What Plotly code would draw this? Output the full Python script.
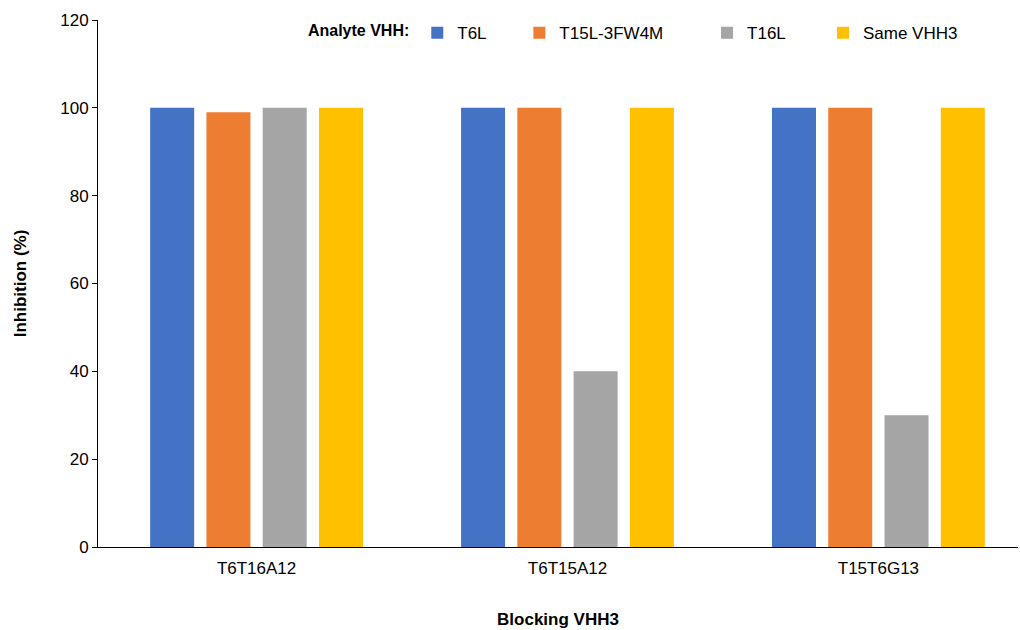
import plotly.graph_objects as go

categories = ["T6T16A12", "T6T15A12", "T15T6G13"]
t6l = [100, 100, 100]
t15l = [99, 100, 100]
t16l = [100, 40, 30]
same = [100, 100, 100]

series_names = ["T6L", "T15L-3FW4M", "T16L", "Same VHH3"]
series_vals = [t6l, t15l, t16l, same]
colors = ["#4472C4", "#ED7D31", "#A5A5A5", "#FFC000"]
legend_ids = ["legend", "legend2", "legend3", "legend4"]

fig = go.Figure()
for name, vals, c, lg in zip(series_names, series_vals, colors, legend_ids):
    fig.add_trace(go.Bar(x=categories, y=vals, name=name, marker=dict(color=c, line=dict(width=0)),
                         legend=lg, showlegend=True))

FONT = "Liberation Sans, Arial, sans-serif"
leg_common = dict(orientation="h", yanchor="middle", y=0.975, bgcolor="rgba(0,0,0,0)",
                  font=dict(family=FONT, size=17, color="black"), itemwidth=30)

fig.update_layout(
    width=1020, height=630,
    showlegend=True,
    margin=dict(l=98, r=2, t=20, b=83),
    paper_bgcolor="white", plot_bgcolor="white",
    bargap=0.276, bargroupgap=0.218,
    font=dict(family=FONT, size=17, color="black"),
    legend=dict(**leg_common, x=0.226, xanchor="left",
                title=dict(text="<b>Analyte VHH:</b>", side="left",
                           font=dict(family=FONT, size=16, color="black"))),
    legend2=dict(**leg_common, x=0.458, xanchor="left"),
    legend3=dict(**leg_common, x=0.662, xanchor="left"),
    legend4=dict(**leg_common, x=0.788, xanchor="left"),
    xaxis=dict(range=[-0.51, 2.449], showline=True, linecolor="black", linewidth=1,
               ticks="", ticklabelstandoff=6, tickfont=dict(family=FONT, size=17, color="black"),
               title=dict(text="<b>Blocking VHH3</b>", font=dict(family=FONT, size=17, color="black"),
                          standoff=35)),
    yaxis=dict(range=[0, 120], dtick=20, showgrid=False, zeroline=False, showline=True,
               linecolor="black", linewidth=1, ticks="outside", ticklen=5, tickcolor="black",
               tickfont=dict(family=FONT, size=17, color="black"),
               title=dict(text="<b>Inhibition (%)</b>", font=dict(family=FONT, size=17, color="black"),
                          standoff=29)),
)

fig.write_html("out.html", config={"displayModeBar": False},
               post_script="document.body.style.margin='0';")
